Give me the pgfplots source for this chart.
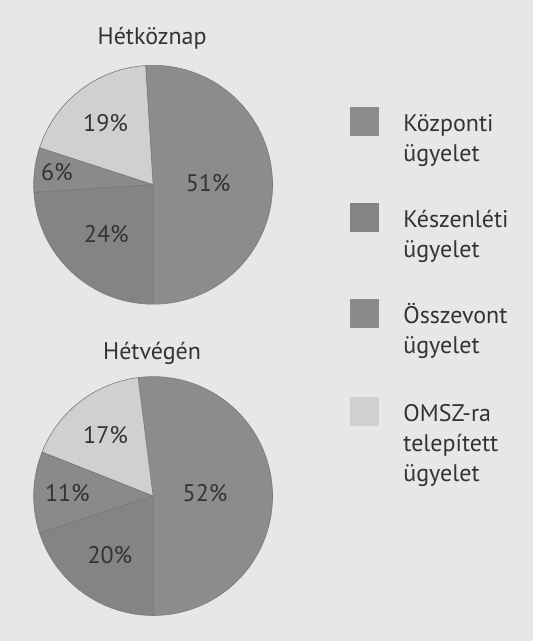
\documentclass[border=0pt]{standalone}
\usepackage{fontspec}
\setmainfont{PT Sans}
\usepackage{pgfplots}
\usepackage{pgfplotstable}
\pgfplotsset{compat=1.18}
\definecolor{bg}{HTML}{E7E7E7}
\definecolor{ink}{HTML}{333333}
\definecolor{edge}{HTML}{7A7A7A}
\definecolor{kozp}{HTML}{8C8C8C}
\definecolor{kesz}{HTML}{848484}
\definecolor{ossz}{HTML}{8A8A8A}
\definecolor{omsz}{HTML}{D0D0D0}
\tikzset{lbl/.style={text=ink, font=\fontsize{23.5}{29.5}\selectfont, inner sep=0pt}}

% slices counter-clockwise from 6 o'clock; lr = label radius (px)
\pgfplotstableread{
name val col lr
kozp 51 kozp 54
omsz 19 omsz 76
ossz 6  ossz 95
kesz 24 kesz 67
}\hetkoz
\pgfplotstableread{
name val col lr
kozp 52 kozp 51
omsz 17 omsz 76
ossz 11 ossz 84
kesz 20 kesz 72
}\hetveg

% #1 table, #2 #3 centre, #4 radius (1 unit = 1pt)
\newcommand\piechart[4]{%
  \pgfplotstablegetrowsof{#1}\pgfmathtruncatemacro\nrows{\pgfplotsretval-1}%
  \gdef\cum{-90}%
  \pgfplotsforeachungrouped \i in {0,...,\nrows}{%
    \pgfplotstablegetelem{\i}{val}\of#1\let\v\pgfplotsretval
    \pgfplotstablegetelem{\i}{col}\of#1\let\c\pgfplotsretval
    \pgfplotstablegetelem{\i}{lr}\of#1\let\lr\pgfplotsretval
    \pgfmathsetmacro\a{\cum}%
    \pgfmathsetmacro\b{\cum+3.6*\v}%
    \pgfmathsetmacro\m{(\a+\b)/2}%
    \pgfmathsetmacro\lx{#2+\lr*cos(\m)}%
    \pgfmathsetmacro\ly{#3+\lr*sin(\m)}%
    \edef\cmd{\noexpand\fill[fill=\c, draw=edge, line width=0.6pt]
        (axis cs:#2,#3) -- ++(\a:#4pt) arc[start angle=\a, end angle=\b, radius=#4pt] -- cycle;
      \noexpand\node[lbl] at (axis cs:\lx,\ly) {\v\noexpand\%};}%
    \cmd
    \global\let\cum\b
  }%
}

\begin{document}
\begin{tikzpicture}
\begin{axis}[
  scale only axis, width=527pt, height=641pt,
  xmin=0, xmax=527, ymin=0, ymax=641, enlargelimits=false,
  hide axis, clip=false,
]
\fill[bg] (axis cs:5,5) rectangle (axis cs:527,633);

\piechart{\hetkoz}{155}{452}{117}
\piechart{\hetveg}{155}{147}{117}

\node[lbl, anchor=base] at (axis cs:154,589) {Hétköznap};
\node[lbl, anchor=base] at (axis cs:154,281) {Hétvégén};

% legend
\fill[kozp] (axis cs:348,528) rectangle (axis cs:376,500);
\node[lbl, anchor=base west] at (axis cs:400,504) {Központi};
\node[lbl, anchor=base west] at (axis cs:400,474.5) {ügyelet};
\fill[kesz] (axis cs:348,434) rectangle (axis cs:376,406);
\node[lbl, anchor=base west] at (axis cs:400,410) {Készenléti};
\node[lbl, anchor=base west] at (axis cs:400,380.5) {ügyelet};
\fill[ossz] (axis cs:348,340) rectangle (axis cs:376,312);
\node[lbl, anchor=base west] at (axis cs:400,316) {Összevont};
\node[lbl, anchor=base west] at (axis cs:400,286.5) {ügyelet};
\fill[omsz] (axis cs:348,244) rectangle (axis cs:376,216);
\node[lbl, anchor=base west] at (axis cs:400,220) {OMSZ-ra};
\node[lbl, anchor=base west] at (axis cs:400,190.5) {telepített};
\node[lbl, anchor=base west] at (axis cs:400,161) {ügyelet};
\end{axis}
\end{tikzpicture}
\end{document}
